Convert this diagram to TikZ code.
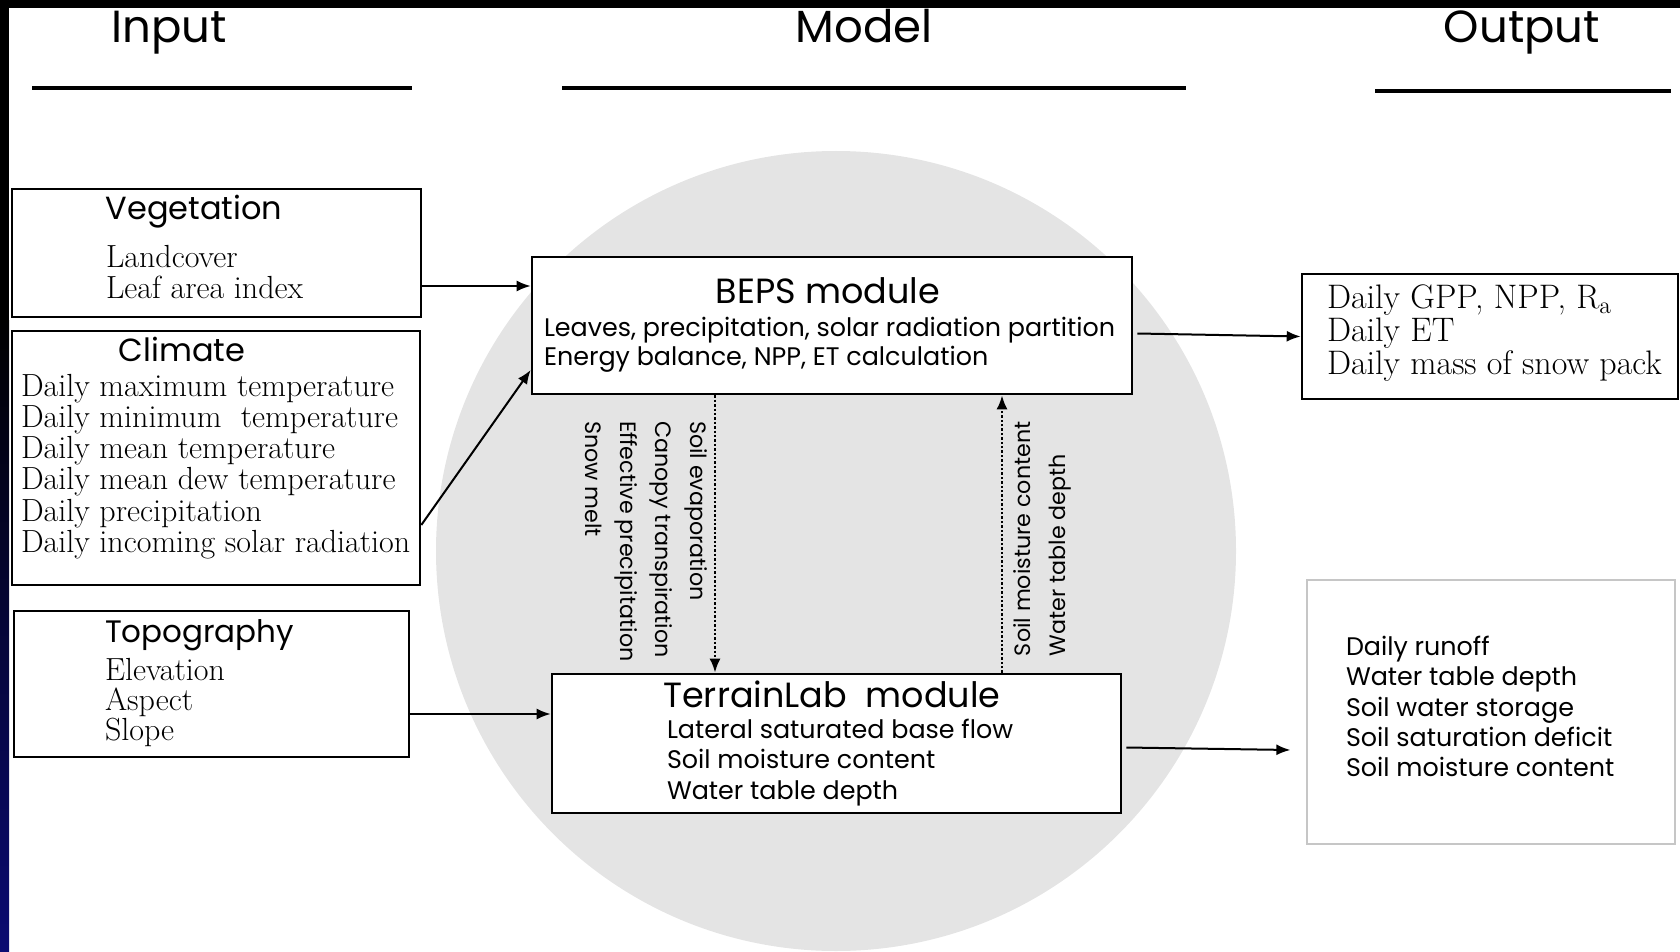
\documentclass[tikz,border=0pt]{standalone}
\usepackage{fontspec}
\usepackage{tikz}
\usetikzlibrary{arrows,arrows.meta,positioning}
\newfontfamily\gothic{Poppins}
\definecolor{modelgray}{HTML}{E4E4E4}
\definecolor{slideblue}{HTML}{0B0B72}

\begin{document}
\begin{tikzpicture}
[x=0.5pt,y=-0.5pt,->,>={Latex[length=7pt,width=5.5pt]},line width=1pt]
\tikzstyle{box}=[draw=black,line width=1.3pt,rectangle,inner sep=0pt]
\tikzstyle{head}=[font=\gothic\fontsize{22.5}{26}\selectfont,anchor=base,inner sep=0pt]
\tikzstyle{title}=[font=\gothic\fontsize{16}{18}\selectfont,anchor=base,inner sep=0pt]
\tikzstyle{sans}=[font=\gothic\fontsize{12.7}{14.5}\selectfont,anchor=base west,inner sep=0pt]
\tikzstyle{serif}=[font=\fontsize{16}{17}\selectfont,anchor=base west,inner sep=0pt]
\tikzstyle{vert}=[font=\gothic\fontsize{11.1}{17.5}\selectfont,align=left,inner sep=0pt]

\useasboundingbox (0,0) rectangle (1680,952);
\clip (0,0) rectangle (1680,952);
% slide background
\fill[-,black] (0,0) rectangle (1680,8);
\fill[-,black] (0,0) rectangle (9,320);
\shade[-,top color=black,bottom color=slideblue] (0,320) rectangle (9,952);
\fill[-,modelgray] (836,551) circle [radius=200pt];

% headers
\node[head] (input) at (169,43) {Input};
\node[head] (model) at (864,43) {Model};
\node[head] (output) at (1522,43) {Output};
\draw[-,line width=2pt] (32,88) -- (412,88);
\draw[-,line width=2pt] (562,88) -- (1186,88);
\draw[-,line width=2pt] (1375,91) -- (1671,91);

% input boxes
\node[box,minimum width=204.5pt,minimum height=64pt] (veg) at (216.5,253) {};
\node[box,minimum width=204pt,minimum height=127pt] (clim) at (216,458) {};
\node[box,minimum width=197.5pt,minimum height=73pt] (topo) at (211.5,684) {};

\node[title] (veg title) at (194,220) {Vegetation};
\node[serif] at (105,268) {Landcover};
\node[serif] at (105,299) {Leaf area index};

\node[title] (clim title) at (182,361) {Climate};
\foreach \t [count=\i] in {Daily maximum temperature, Daily minimum\ \ temperature,
  Daily mean temperature, Daily mean dew temperature, Daily precipitation,
  Daily incoming solar radiation}
  \node[serif] (clim\i) at (20,396+31.3*\i-31.3) {\t};

\node[title,font=\gothic\fontsize{15.5}{18}\selectfont,anchor=base west] (topo title) at (104,642) {Topography};
\node[serif] at (104,680) {Elevation};
\node[serif] at (104,710) {Aspect};
\node[serif] at (104,740) {Slope};

% model
\node[box,fill=white,minimum width=300pt,minimum height=68.5pt] (beps) at (832,325.5) {};
\node[box,fill=white,minimum width=284.5pt,minimum height=69.5pt] (terrain) at (836.5,743.5) {};

\node[title,font=\gothic\fontsize{17.5}{20}\selectfont] (beps title) at (828,303) {BEPS module};
\node[sans] at (543,336) {Leaves, precipitation, solar radiation partition};
\node[sans] at (543,365) {Energy balance, NPP, ET calculation};

\node[title,font=\gothic\fontsize{17.5}{20}\selectfont] (terrain title) at (832,707) {TerrainLab\ \ module};
\node[sans] at (666,738) {Lateral saturated base flow};
\node[sans] at (666,768) {Soil moisture content};
\node[sans] at (666,799) {Water table depth};

\node[vert,rotate=-90,anchor=north west] (down label) at (708,420)
  {Soil evaporation\\Canopy transpiration\\Effective precipitation\\Snow melt};
\node[vert,rotate=90,anchor=north west] (up label) at (1013,657)
  {Soil moisture content\\Water table depth};

% outputs
\node[box,minimum width=188pt,minimum height=62.5pt] (daily) at (1490,336.5) {};
\node[box,draw=gray!45,line width=0.6pt,minimum width=184pt,minimum height=132pt] (hydro) at (1491,712) {};

\node[serif,font=\fontsize{17}{18}\selectfont] at (1326,308) {Daily GPP, NPP, R\textsubscript{a}};
\node[serif,font=\fontsize{17}{18}\selectfont] at (1326,341) {Daily ET};
\node[serif,font=\fontsize{17}{18}\selectfont] at (1326,374) {Daily mass of snow pack};

\node[sans] at (1345,655) {Daily runoff};
\node[sans] at (1345,685) {Water table depth};
\node[sans] at (1345,716) {Soil water storage};
\node[sans] at (1345,746) {Soil saturation deficit};
\node[sans] at (1345,776) {Soil moisture content};

% connectors
\draw ([yshift=-16.5pt]veg.east) -- ([yshift=-16.5pt]veg.east -| beps.west);
\draw ([yshift=-33.5pt]clim.east) -- ([yshift=-22.25pt]beps.west);
\draw ([yshift=-15pt]topo.east) -- ([yshift=-15pt]topo.east -| terrain.west);
\draw ([xshift=2pt,yshift=-4pt]beps.east) -- (daily.west);
\draw ([xshift=2pt,yshift=-2pt]terrain.east) -- ([xshift=-8pt,yshift=-19pt]hydro.west);
\draw[densely dotted,line width=1.2pt] ([xshift=-58.5pt]beps.south) -- ([xshift=-58.5pt]beps.south |- terrain.north);
\draw[densely dotted,line width=1.2pt] ([xshift=85pt]beps.south |- terrain.north) -- ([xshift=85pt]beps.south);
\end{tikzpicture}
\end{document}
